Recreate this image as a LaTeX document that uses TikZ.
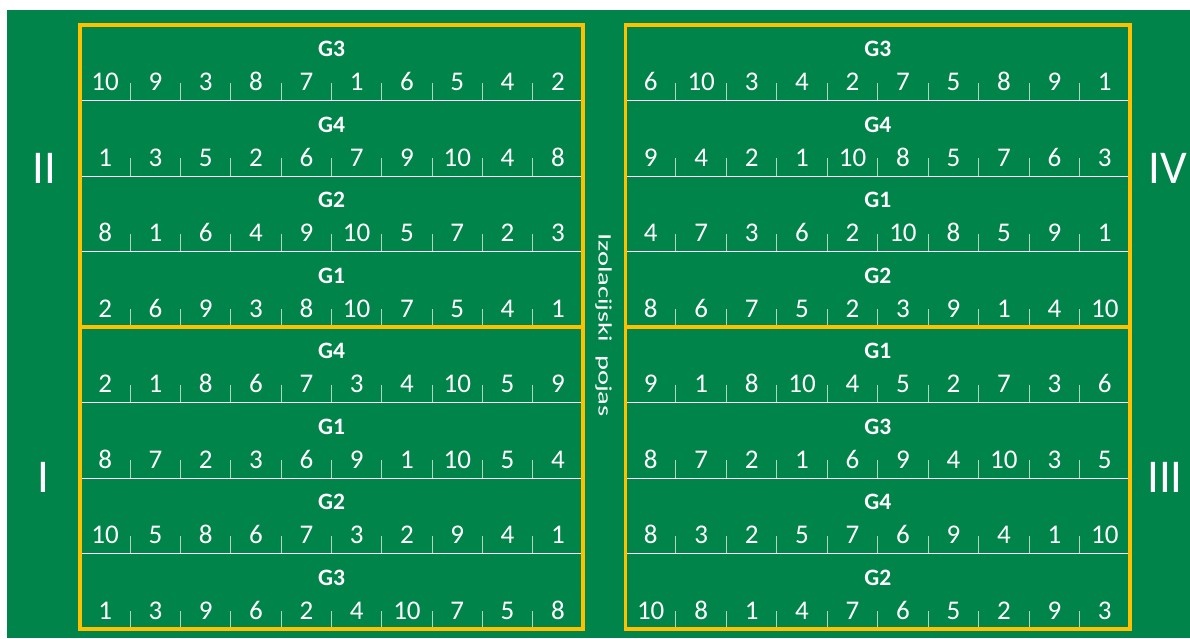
\documentclass[tikz,border=0pt]{standalone}
\usepackage{fontspec}
\usepackage{graphicx}
\setmainfont{Carlito}
\definecolor{bg}{RGB}{0,132,74}
\definecolor{ylw}{RGB}{255,192,0}
\definecolor{tickc}{RGB}{175,215,195}
\tikzset{
  num/.style={font=\fontsize{27}{27}\selectfont, text=white, anchor=base, inner sep=0pt},
  glab/.style={font=\fontsize{23.5}{23.5}\selectfont\bfseries, text=white, anchor=base, inner sep=0pt},
  roman/.style={font=\fontsize{47}{47}\selectfont, text=white, inner sep=0pt},
  sepline/.style={white, line width=1pt},
  tickline/.style={tickc, line width=1pt},
  frame/.style={ylw, line width=3.5pt}
}
\begin{document}
\begin{tikzpicture}[x=1pt,y=-1pt]
\useasboundingbox (0,0) rectangle (1190,638);
\fill[bg] (7,10) rectangle (1190,638);
% left field
\foreach \r/\g/\nums in {
  1/G3/{10,9,3,8,7,1,6,5,4,2},
  2/G4/{1,3,5,2,6,7,9,10,4,8},
  3/G2/{8,1,6,4,9,10,5,7,2,3},
  4/G1/{2,6,9,3,8,10,7,5,4,1},
  5/G4/{2,1,8,6,7,3,4,10,5,9},
  6/G1/{8,7,2,3,6,9,1,10,5,4},
  7/G2/{10,5,8,6,7,3,2,9,4,1},
  8/G3/{1,3,9,6,2,4,10,7,5,8}}{
  \pgfmathsetmacro{\top}{25+75.5*(\r-1)}
  \pgfmathsetmacro{\bot}{25+75.5*\r}
  \node[glab] (L\r g) at (331.5,\top+31.7) {\g};
  \foreach \n [count=\c] in \nums {
    \node[num] (L\r n\c) at (80+50.3*\c-25.15,\bot-9.8) {\n};
  }
  \foreach \k in {1,...,9} {
    \draw[tickline] (80+50.3*\k,\bot-18) -- (80+50.3*\k,\bot);
  }
  \ifnum\r<8 \ifnum\r=4\relax\else
    \draw[sepline] (80,\bot) -- (583,\bot);
  \fi\fi
}
% right field
\foreach \r/\g/\nums in {
  1/G3/{6,10,3,4,2,7,5,8,9,1},
  2/G4/{9,4,2,1,10,8,5,7,6,3},
  3/G1/{4,7,3,6,2,10,8,5,9,1},
  4/G2/{8,6,7,5,2,3,9,1,4,10},
  5/G1/{9,1,8,10,4,5,2,7,3,6},
  6/G3/{8,7,2,1,6,9,4,10,3,5},
  7/G4/{8,3,2,5,7,6,9,4,1,10},
  8/G2/{10,8,1,4,7,6,5,2,9,3}}{
  \pgfmathsetmacro{\top}{25+75.5*(\r-1)}
  \pgfmathsetmacro{\bot}{25+75.5*\r}
  \node[glab] (R\r g) at (877.75,\top+31.7) {\g};
  \foreach \n [count=\c] in \nums {
    \node[num] (R\r n\c) at (625.5+50.45*\c-25.225,\bot-9.8) {\n};
  }
  \foreach \k in {1,...,9} {
    \draw[tickline] (625.5+50.45*\k,\bot-18) -- (625.5+50.45*\k,\bot);
  }
  \ifnum\r<8 \ifnum\r=4\relax\else
    \draw[sepline] (625.5,\bot) -- (1130,\bot);
  \fi\fi
}
% frames
\draw[frame] (80,25) rectangle (583,629);
\draw[frame] (80,327) -- (583,327);
\draw[frame] (625.5,25) rectangle (1130,629);
\draw[frame] (625.5,327) -- (1130,327);
% labels
\node[font=\fontsize{19}{19}\selectfont, text=white, rotate=-90, inner sep=0pt] (iso) at (603.5,325) {\scalebox{1.5}[1]{Izolacijski\ \ pojas}};
\node[roman] (II) at (44,168) {II};
\node[roman] (I) at (43,477) {I};
\node[roman] (IV) at (1168,168) {IV};
\node[roman] (III) at (1165,477) {III};
\end{tikzpicture}
\end{document}
